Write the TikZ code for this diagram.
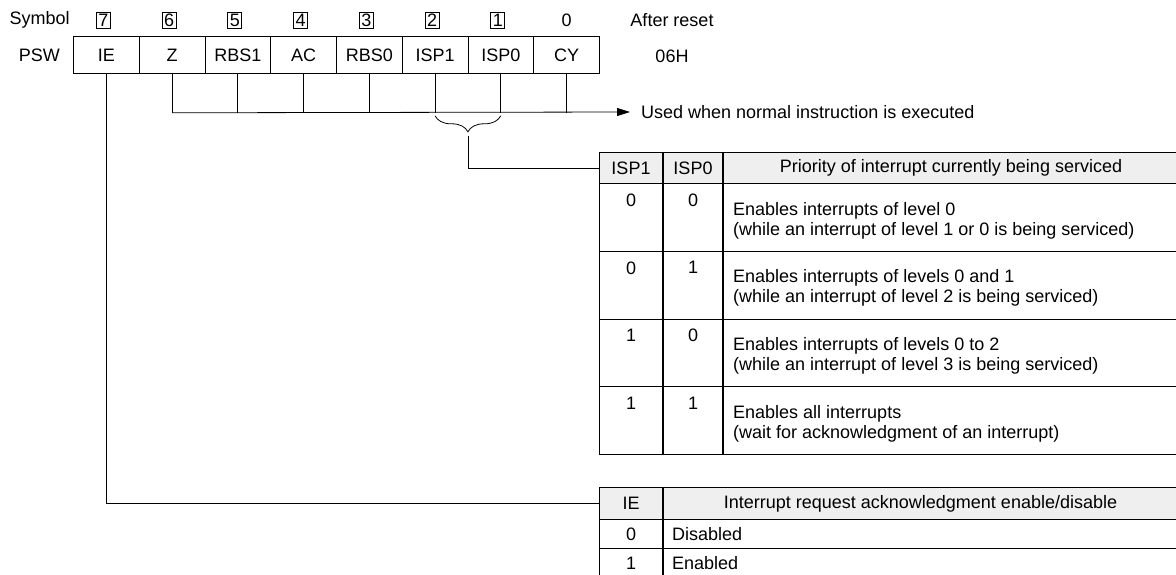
\documentclass[tikz,border=0pt]{standalone}
\usepackage{fontspec}
\setmainfont{Liberation Sans}
\usetikzlibrary{positioning, arrows.meta, decorations.pathreplacing, calc}
\definecolor{headgray}{RGB}{239,239,239}

\begin{document}
\begin{tikzpicture}[
    x=1pt, y=-1pt,
    font=\fontsize{18}{20}\selectfont,
    regcell/.style={draw, line width=0.8pt, minimum width=65.75pt, minimum height=37pt, inner sep=0pt, anchor=north west},
    bitbox/.style={draw, line width=0.8pt, minimum width=14pt, minimum height=16pt, inner sep=0pt},
    tcell/.style={draw, line width=1pt, inner sep=0pt, anchor=north west},
    thead/.style={tcell, fill=headgray},
    link/.style={line width=0.8pt},
    arrow/.style={link, -{Triangle[length=13pt, width=8pt]}}
]
    \useasboundingbox (0,0) rectangle (1176,575);

    % Register
    \foreach \name/\lbl [count=\i from 0] in {ie/IE, z/Z, rbsa/RBS1, ac/AC, rbsb/RBS0, ispa/ISP1, ispb/ISP0, cy/CY}
        \node[regcell] (\name) at ({73+\i*65.75},36) {\lbl};
    \foreach \name/\n in {ie/7, z/6, rbsa/5, ac/4, rbsb/3, ispa/2, ispb/1}
        \node[bitbox] (n\name) at ($(\name.north)+(-3,-16)$) {\n};
    \node (ncy) at ($(cy.north)+(0,-16)$) {0};
    \node[left=26pt of nie, inner sep=0pt] (symbol) {Symbol};
    \node[left=13pt of ie, inner sep=0pt] (psw) {PSW};
    \node (reset) at (672,20) {After reset};
    \node (resetval) at (672,56) {06H};

    % Bus to normal use
    \coordinate (busl) at ($(z.south)+(0,39)$);
    \coordinate (busr) at (630,112);
    \foreach \name in {rbsa, ac, rbsb, ispa, ispb, cy}
        \draw[link] (\name.south) -- (\name.south |- busl);
    \draw[link] (z.south) -- (busl);
    \draw[arrow] (busl) -- (busr);
    \node[anchor=west, inner sep=0pt] (usage) at ($(busr)+(11,0)$) {Used when normal instruction is executed};

    % Brace over ISP bits
    \draw[link, decorate, decoration={brace, mirror, amplitude=16pt}] ($(ispa.south)+(0,42)$) -- ($(ispb.south)+(0,42)$);
    \coordinate (tip) at ($(ispa.south)!0.5!(ispb.south)+(0,62)$);

    % ISP table
    \node[thead, minimum width=63pt, minimum height=31pt] (ta1) at (599,152) {ISP1};
    \node[thead, minimum width=59pt, minimum height=31pt] (ta2) at (ta1.north east) {ISP0};
    \node[thead, minimum width=455pt, minimum height=31pt] (ta3) at (ta2.north east) {Priority of interrupt currently being serviced};
    \foreach \a/\b/\la/\lb [count=\r from 0] in {
        0/0/Enables interrupts of level 0/(while an interrupt of level 1 or 0 is being serviced),
        0/1/Enables interrupts of levels 0 and 1/(while an interrupt of level 2 is being serviced),
        1/0/Enables interrupts of levels 0 to 2/(while an interrupt of level 3 is being serviced),
        1/1/Enables all interrupts/(wait for acknowledgment of an interrupt)}
    {
        \node[tcell, minimum width=63pt, minimum height=67.75pt] (ra\r) at (599,{183+\r*67.75}) {};
        \node[tcell, minimum width=59pt, minimum height=67.75pt] (rb\r) at (ra\r.north east) {};
        \node[tcell, minimum width=455pt, minimum height=67.75pt] (rc\r) at (rb\r.north east) {};
        \node[anchor=north, inner sep=0pt] (va\r) at ($(ra\r.north)+(0,10.5)$) {\a};
        \node[anchor=north, inner sep=0pt] (vb\r) at ($(rb\r.north)+(0,10.5)$) {\b};
        \node[anchor=north west, inner sep=0pt, align=left] (txt\r) at ($(rc\r.north west)+(10,19)$) {\la\\\lb};
    }

    % IE table
    \node[thead, minimum width=63pt, minimum height=32pt] (tb1) at (599,487) {IE};
    \node[thead, minimum width=514pt, minimum height=32pt] (tb2) at (tb1.north east) {Interrupt request acknowledgment enable/disable};
    \foreach \v/\txt [count=\r from 0] in {0/Disabled, 1/Enabled}
    {
        \node[tcell, minimum width=63pt, minimum height=29pt] (sa\r) at (599,{519+\r*29}) {\v};
        \node[tcell, minimum width=514pt, minimum height=29pt] (sb\r) at (sa\r.north east) {};
        \node[anchor=west, inner sep=0pt] (st\r) at ($(sb\r.west)+(9,0)$) {\txt};
    }

    % Links to tables
    \draw[link] (ie.south) |- (tb1.west);
    \draw[link] (tip) |- (ta1.west);
\end{tikzpicture}
\end{document}
